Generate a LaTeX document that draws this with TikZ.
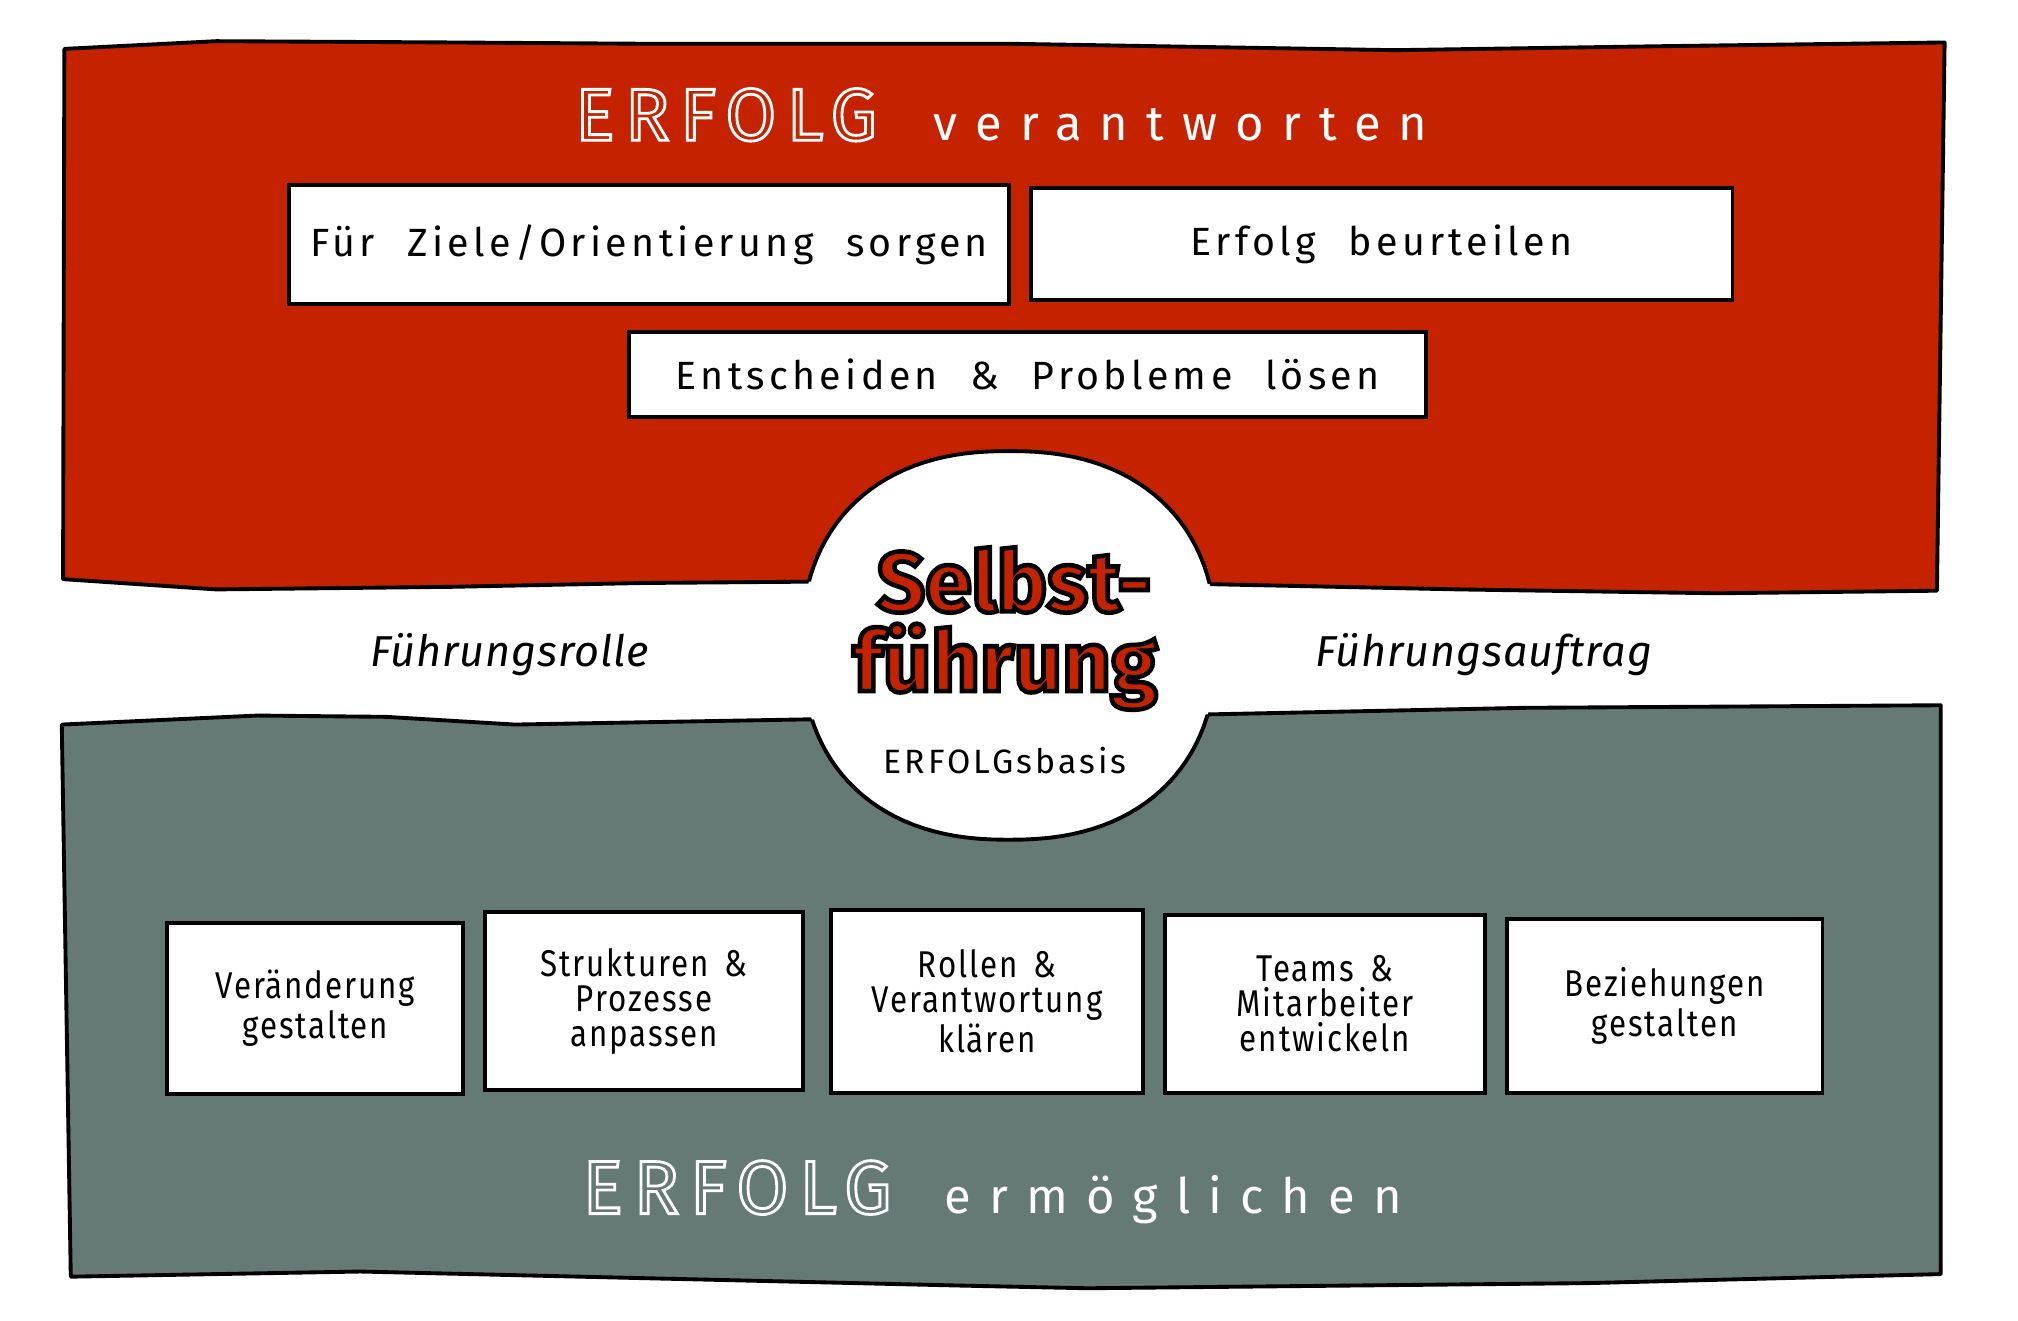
\documentclass[tikz,border=0pt]{standalone}
\usepackage{fontspec}
\setmainfont{Fira Sans}
\usetikzlibrary{positioning}
\definecolor{erfred}{RGB}{197,34,0}
\definecolor{erfgray}{RGB}{101,121,117}
\newfontfamily\headfont{Fira Sans}[LetterSpace=14]
\newfontfamily\titlefont{Fira Sans}[LetterSpace=37]
\newfontfamily\cardfont{Fira Sans}[LetterSpace=11, WordSpace=2.2]
\newfontfamily\smallcardfont{Fira Sans}[LetterSpace=5, FakeStretch=0.84, WordSpace=1.6]
\newfontfamily\sidefont{Fira Sans}[LetterSpace=2]
\newfontfamily\basisfont{Fira Sans}[LetterSpace=9]
\newfontfamily\selbstfont{Fira Sans}[LetterSpace=0]
% outline letters (text render mode 1) and red letters with a black rim (mode 2)
\newcommand{\hollow}[1]{\special{pdf:literal direct 1 Tr 0.8 w}#1\special{pdf:literal direct 0 Tr}}
\newcommand{\inked}[1]{{\color{erfred}\special{pdf:literal direct 2 Tr 1.3 w 0 0 0 RG}#1\special{pdf:literal direct 0 Tr}}}
% outlines of the two panels and of the centre blob
\newcommand{\redpanelpath}{(50,38) -- (168,32) -- (350,33) -- (500,34) -- (784,34) -- (1084,39)
  -- (1284,36) -- (1511,33) -- (1505,459) -- (1334,461) -- (1134,458) -- (944,454)
  -- (625,452) -- (500,453) -- (350,456) -- (168,458) -- (49,450) -- cycle}
\newcommand{\graypanelpath}{(48,563) -- (200,556) -- (300,557) -- (400,563) -- (625,559)
  -- (944,555) -- (1184,550) -- (1508,548) -- (1508,990) -- (1234,997)
  -- (845,1001) -- (750,999) -- (280,988) -- (55,992) -- cycle}
\newcommand{\blobpath}{plot[domain=0.5:359.5, samples=121]
  ({784+161*sign(cos(\x))*abs(cos(\x))^0.87}, {501.5+151*sign(sin(\x))*abs(sin(\x))^0.87}) -- cycle}
\tikzset{
  panel/.style={draw=black, line width=1.1pt, line join=round},
  card/.style={draw, line width=1.1pt, fill=white, inner sep=0pt, align=center},
  boxsize/.style 2 args={minimum width=#1*0.3662pt, minimum height=#2*0.3662pt},
  upcard/.style={card, font=\cardfont\fontsize{11.2}{13}\selectfont},
  lowcard/.style={card, font=\smallcardfont\fontsize{10.6}{9.9}\selectfont},
}

\begin{document}
\begin{tikzpicture}[x=0.01287cm, y=-0.01287cm,
      heading/.style={anchor=base, text=white, inner sep=0pt},
      side/.style={anchor=base, inner sep=0pt, font=\sidefont\itshape\fontsize{12.3}{14}\selectfont},
      selbsttxt/.style={anchor=base, inner sep=0pt, font=\selbstfont\bfseries\fontsize{24}{20}\selectfont}]
  \useasboundingbox (0,0) rectangle (1568,1026);
  % panels
  \draw[panel, fill=erfred] \redpanelpath;
  \draw[panel, fill=erfgray] \graypanelpath;
  \fill[white] \blobpath;
  \begin{scope}
    \clip \redpanelpath;
    \draw[line width=1.1pt] \blobpath;
  \end{scope}
  \begin{scope}
    \clip \graypanelpath;
    \draw[line width=1.1pt] \blobpath;
  \end{scope}
  % red panel
  \node[heading] (topheading) at (778,109)
    {\hollow{\headfont\fontsize{21}{24}\selectfont ERFOLG}\hspace{16pt}{\titlefont\fontsize{13.9}{16}\selectfont verantworten}};
  \node[upcard, boxsize={559}{92}] (ziele) at (504.5,190) {Für Ziele/Orientierung sorgen};
  \node[upcard, boxsize={545}{87}] (beurteilen) at (1073.5,189.5) {Erfolg beurteilen};
  \node[upcard, boxsize={619}{66}] (entscheiden) at (798.5,291) {Entscheiden \& Probleme lösen};
  % centre
  \node[selbsttxt] (selbst) at (788,475) {\inked{Selbst-}};
  \node[selbsttxt] (fuehrung) at (781,537) {\inked{führung}};
  \node[anchor=base, inner sep=0pt, font=\basisfont\fontsize{9.6}{11}\selectfont] (basis) at (781,601) {ERFOLGsbasis};
  \node[side] (rolle) at (396,518) {Führungsrolle};
  \node[side] (auftrag) at (1153,518) {Führungsauftrag};
  % gray panel
  \node[lowcard, boxsize={230}{133}] (wandel) at (245,783.5) {Veränderung\\gestalten};
  \node[lowcard, boxsize={247}{138}] (strukturen) at (500.5,778) {Strukturen \&\\Prozesse\\anpassen};
  \node[lowcard, boxsize={242}{142}] (rollen) at (767,778) {Rollen \&\\Verantwortung\\klären};
  \node[lowcard, boxsize={249}{138}] (teams) at (1029.5,780) {Teams \&\\Mitarbeiter\\entwickeln};
  \node[lowcard, boxsize={245}{135}] (beziehungen) at (1293.5,781.5) {Beziehungen\\gestalten};
  \node[heading] (bottomheading) at (771,943)
    {\hollow{\headfont\fontsize{21.5}{24}\selectfont ERFOLG}\hspace{15pt}{\titlefont\fontsize{13.9}{16}\selectfont ermöglichen}};
\end{tikzpicture}
\end{document}
